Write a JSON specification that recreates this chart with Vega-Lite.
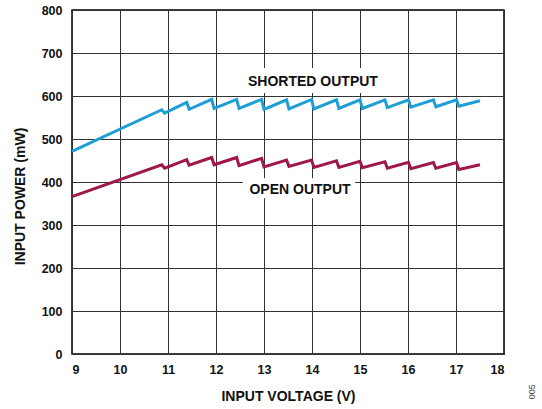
{
  "$schema": "https://vega.github.io/schema/vega-lite/v6.json",
  "width": 432,
  "height": 344,
  "autosize": "none",
  "padding": {"left": 72, "top": 10, "right": 38, "bottom": 55},
  "background": "white",
  "config": {
    "view": {"stroke": "#000", "strokeWidth": 1.5},
    "font": "Liberation Sans",
    "axis": {
      "domain": false,
      "ticks": false,
      "grid": true,
      "gridColor": "#333",
      "gridWidth": 1,
      "labelFont": "Liberation Sans",
      "labelFontWeight": "bold",
      "labelFontSize": 12.5,
      "labelColor": "#111",
      "titleFont": "Liberation Sans",
      "titleFontWeight": "bold",
      "titleFontSize": 14,
      "titleColor": "#111"
    }
  },
  "datasets": {
    "curves": [
      {"v": 9.0, "p": 471, "s": "SHORTED"},
      {"v": 10.87, "p": 568, "s": "SHORTED"},
      {"v": 10.93, "p": 560, "s": "SHORTED"},
      {"v": 11.39, "p": 585, "s": "SHORTED"},
      {"v": 11.44, "p": 569, "s": "SHORTED"},
      {"v": 11.91, "p": 592, "s": "SHORTED"},
      {"v": 11.96, "p": 571, "s": "SHORTED"},
      {"v": 12.43, "p": 592, "s": "SHORTED"},
      {"v": 12.48, "p": 571, "s": "SHORTED"},
      {"v": 12.95, "p": 592, "s": "SHORTED"},
      {"v": 13.0, "p": 569, "s": "SHORTED"},
      {"v": 13.47, "p": 591, "s": "SHORTED"},
      {"v": 13.52, "p": 570, "s": "SHORTED"},
      {"v": 13.99, "p": 592, "s": "SHORTED"},
      {"v": 14.04, "p": 570, "s": "SHORTED"},
      {"v": 14.51, "p": 591, "s": "SHORTED"},
      {"v": 14.56, "p": 571, "s": "SHORTED"},
      {"v": 15.0, "p": 591, "s": "SHORTED"},
      {"v": 15.05, "p": 571, "s": "SHORTED"},
      {"v": 15.52, "p": 591, "s": "SHORTED"},
      {"v": 15.57, "p": 573, "s": "SHORTED"},
      {"v": 16.01, "p": 591, "s": "SHORTED"},
      {"v": 16.06, "p": 574, "s": "SHORTED"},
      {"v": 16.53, "p": 591, "s": "SHORTED"},
      {"v": 16.58, "p": 575, "s": "SHORTED"},
      {"v": 17.01, "p": 591, "s": "SHORTED"},
      {"v": 17.06, "p": 576, "s": "SHORTED"},
      {"v": 17.5, "p": 589, "s": "SHORTED"},
      {"v": 9.0, "p": 366, "s": "OPEN"},
      {"v": 10.87, "p": 440, "s": "OPEN"},
      {"v": 10.93, "p": 432, "s": "OPEN"},
      {"v": 11.39, "p": 452, "s": "OPEN"},
      {"v": 11.44, "p": 439, "s": "OPEN"},
      {"v": 11.91, "p": 457, "s": "OPEN"},
      {"v": 11.96, "p": 440, "s": "OPEN"},
      {"v": 12.43, "p": 457, "s": "OPEN"},
      {"v": 12.48, "p": 438, "s": "OPEN"},
      {"v": 12.95, "p": 455, "s": "OPEN"},
      {"v": 13.0, "p": 435, "s": "OPEN"},
      {"v": 13.47, "p": 451, "s": "OPEN"},
      {"v": 13.52, "p": 436, "s": "OPEN"},
      {"v": 13.99, "p": 451, "s": "OPEN"},
      {"v": 14.04, "p": 434, "s": "OPEN"},
      {"v": 14.51, "p": 449, "s": "OPEN"},
      {"v": 14.56, "p": 434, "s": "OPEN"},
      {"v": 15.0, "p": 448, "s": "OPEN"},
      {"v": 15.05, "p": 433, "s": "OPEN"},
      {"v": 15.52, "p": 447, "s": "OPEN"},
      {"v": 15.57, "p": 432, "s": "OPEN"},
      {"v": 16.01, "p": 446, "s": "OPEN"},
      {"v": 16.06, "p": 431, "s": "OPEN"},
      {"v": 16.53, "p": 445, "s": "OPEN"},
      {"v": 16.58, "p": 432, "s": "OPEN"},
      {"v": 17.01, "p": 445, "s": "OPEN"},
      {"v": 17.06, "p": 429, "s": "OPEN"},
      {"v": 17.5, "p": 440, "s": "OPEN"}
    ],
    "labels": [
      {"v": 14.02, "p": 633, "t": "SHORTED OUTPUT", "x1": 12.6, "x2": 15.45, "y1": 607, "y2": 665},
      {"v": 13.75, "p": 381, "t": "OPEN OUTPUT", "x1": 12.56, "x2": 14.9, "y1": 362, "y2": 409}
    ],
    "note": [
      {"v": 18.58, "p": -88, "t": "005"}
    ]
  },
  "layer": [
    {
      "data": {"name": "labels"},
      "mark": {"type": "rect", "fill": "white", "stroke": null},
      "encoding": {
        "x": {"field": "x1", "type": "quantitative", "scale": {"domain": [9, 18]},
              "axis": {"values": [9,10,11,12,13,14,15,16,17,18], "title": "INPUT VOLTAGE (V)", "labelPadding": 9, "titleY": 42, "titleBaseline": "middle"}},
        "x2": {"field": "x2"},
        "y": {"field": "y1", "type": "quantitative", "scale": {"domain": [0, 800]},
              "axis": {"values": [0,100,200,300,400,500,600,700,800], "title": "INPUT POWER (mW)", "labelPadding": 10, "titleX": -52, "titleY": 186, "titleBaseline": "middle", "titleAlign": "center", "titleAngle": -90}},
        "y2": {"field": "y2"}
      }
    },
    {
      "data": {"name": "curves"},
      "mark": {"type": "line", "strokeWidth": 3, "strokeJoin": "miter", "strokeCap": "butt"},
      "encoding": {
        "x": {"field": "v", "type": "quantitative"},
        "y": {"field": "p", "type": "quantitative"},
        "detail": {"field": "s"},
        "order": {"field": "v", "type": "quantitative"},
        "color": {"field": "s", "type": "nominal", "scale": {"domain": ["SHORTED", "OPEN"], "range": ["#1d9fd6", "#a0184b"]}, "legend": null}
      }
    },
    {
      "data": {"name": "labels"},
      "mark": {"type": "text", "fontWeight": "bold", "fontSize": 14, "font": "Liberation Sans", "color": "#111", "align": "center", "baseline": "middle"},
      "encoding": {
        "x": {"field": "v", "type": "quantitative"},
        "y": {"field": "p", "type": "quantitative"},
        "text": {"field": "t"}
      }
    },
    {
      "data": {"name": "note"},
      "mark": {"type": "text", "fontSize": 9, "font": "Liberation Sans", "color": "#444", "angle": 270, "align": "center", "baseline": "middle"},
      "encoding": {
        "x": {"field": "v", "type": "quantitative"},
        "y": {"field": "p", "type": "quantitative"},
        "text": {"field": "t"}
      }
    }
  ]
}
